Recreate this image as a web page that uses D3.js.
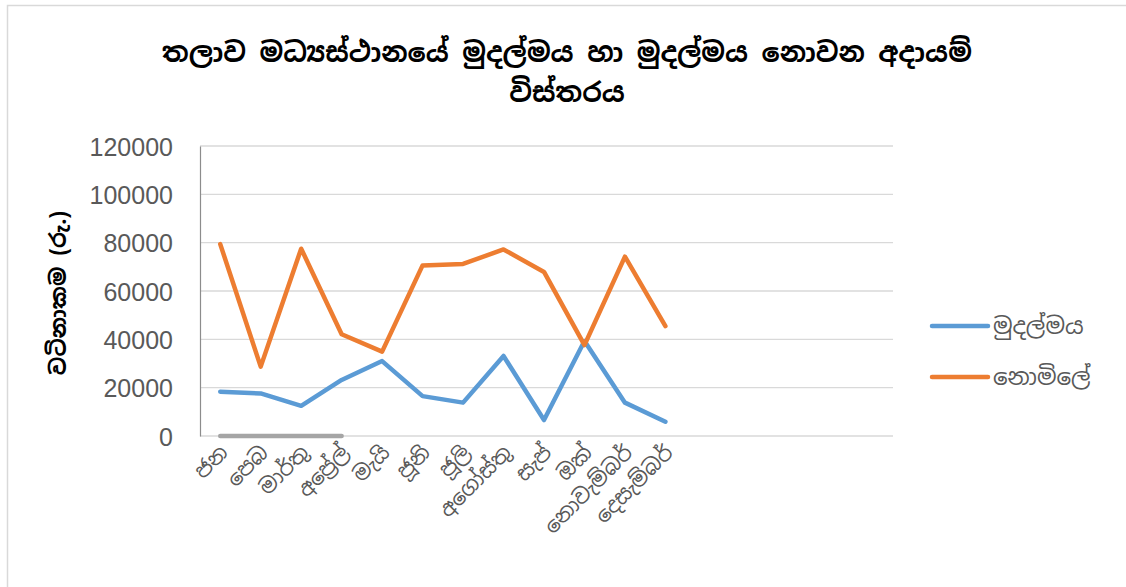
<!DOCTYPE html>
<html>
<head>
<meta charset="utf-8">
<script src="https://cdn.jsdelivr.net/npm/d3@7"></script>
<style>
  body { margin: 0; background: #fff; }
  svg { display: block; }
</style>
</head>
<body>
<svg id="chart" width="1126" height="587"></svg>
<script>
// chart data
const months = ['ජන', 'පෙබ', 'මාර්තු', 'අප්‍රේල්', 'මැයි', 'ජූනි', 'ජූලි', 'අගෝස්තු', 'සැප්', 'ඔක්', 'නොවැම්බර්', 'දෙසැම්බර්'];
const blankSlots = 5; // empty categories after December
const monetary = [18300, 17600, 12500, 23200, 31000, 16500, 13800, 33100, 6600, 39300, 13800, 5900];
const freeOfCharge = [79400, 28700, 77500, 42100, 34900, 70600, 71200, 77200, 67900, 37600, 74200, 45500];
const third = [0, 0, 0, 0];
const yTicks = [0, 20000, 40000, 60000, 80000, 100000, 120000];
const seriesNames = ['මුදල්මය', 'නොමිලේ'];

const title1 = 'තලාව මධ්‍යස්ථානයේ මුදල්මය හා මුදල්මය නොවන අදායම්';
const title2 = 'විස්තරය';
const yTitle = 'වටිනාකම (රු.)';

const sinhalaFont = "'Noto Sans Sinhala', 'Iskoola Pota', 'Noto Sans', sans-serif";
const numFont = "'Liberation Sans', Arial, sans-serif";

const svg = d3.select('#chart');
const margin = { left: 200, right: 888, top: 146, bottom: 436 };

// outer frame
svg.append('rect')
    .attr('x', 7.5).attr('y', 5.5).attr('width', 1140).attr('height', 600)
    .attr('fill', 'none').attr('stroke', '#d9d9d9').attr('stroke-width', 1.5);

const nSlots = months.length + blankSlots;
const x = d3.scaleLinear().domain([-0.5, nSlots - 0.5]).range([margin.left, margin.right]);
const y = d3.scaleLinear().domain([0, 120000]).range([margin.bottom, margin.top]);

// gridlines
svg.append('g').selectAll('line').data(yTicks).join('line')
    .attr('x1', margin.left).attr('x2', 893)
    .attr('y1', d => y(d)).attr('y2', d => y(d))
    .attr('stroke', '#d9d9d9').attr('stroke-width', 1.3);

// left axis
const yAxis = svg.append('g')
    .attr('transform', `translate(${margin.left},0)`)
    .call(d3.axisLeft(y).tickValues(yTicks).tickSize(0).tickPadding(27).tickFormat(d3.format('d')));
yAxis.select('.domain').attr('stroke', '#8c8c8c').attr('stroke-width', 1.2);
yAxis.selectAll('text')
    .attr('font-family', numFont).attr('font-size', '25px').attr('fill', '#595959')
    .attr('dy', '0.36em');

// x labels
svg.append('g').selectAll('text').data(months).join('text')
    .attr('transform', (d, i) => `translate(${x(i) + 9},${454}) rotate(-45)`)
    .attr('text-anchor', 'end')
    .attr('font-family', sinhalaFont).attr('font-size', '21px').attr('fill', '#595959')
    .text(d => d);

// lines
const line = d3.line().x((d, i) => x(i)).y(d => y(d));
const series = [
    { values: third, color: '#a5a5a5' },
    { values: monetary, color: '#5b9bd5' },
    { values: freeOfCharge, color: '#ed7d31' }
];
svg.append('g').selectAll('path').data(series).join('path')
    .attr('d', d => line(d.values))
    .attr('fill', 'none').attr('stroke', d => d.color)
    .attr('stroke-width', 4.5).attr('stroke-linecap', 'round').attr('stroke-linejoin', 'round');

// title
svg.append('text')
    .attr('x', 567).attr('y', 62).attr('text-anchor', 'middle')
    .attr('font-family', sinhalaFont).attr('font-size', '27px').attr('font-weight', 'bold').attr('fill', '#000')
    .text(title1);
svg.append('text')
    .attr('x', 567).attr('y', 102).attr('text-anchor', 'middle')
    .attr('font-family', sinhalaFont).attr('font-size', '27px').attr('font-weight', 'bold').attr('fill', '#000')
    .text(title2);

// y title
svg.append('text')
    .attr('transform', 'translate(66,293) rotate(-90)')
    .attr('text-anchor', 'middle')
    .attr('font-family', sinhalaFont).attr('font-size', '22px').attr('font-weight', 'bold').attr('fill', '#000')
    .text(yTitle);

// legend
const legend = svg.append('g').selectAll('g').data(seriesNames).join('g')
    .attr('transform', (d, i) => `translate(932,${326 + i * 51})`);
legend.append('line')
    .attr('x1', 0).attr('x2', 56)
    .attr('stroke', (d, i) => series[i + 1].color)
    .attr('stroke-width', 4.5).attr('stroke-linecap', 'round');
legend.append('text')
    .attr('x', 61).attr('dy', '0.35em')
    .attr('font-family', sinhalaFont).attr('font-size', '23px').attr('fill', '#595959')
    .text(d => d);
</script>
</body>
</html>
